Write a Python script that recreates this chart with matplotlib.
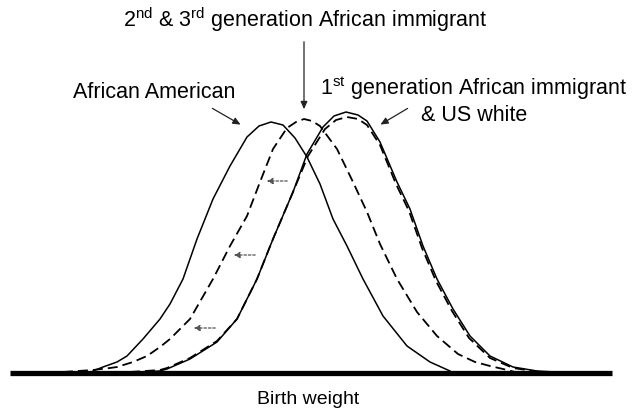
import matplotlib
matplotlib.use("Agg")
import matplotlib.pyplot as plt

plt.rcParams["font.family"] = ["Liberation Sans", "DejaVu Sans"]
plt.rcParams["mathtext.fontset"] = "custom"
plt.rcParams["mathtext.rm"] = "Liberation Sans"

# curves: x = birth weight (px), y = height above baseline (px)
aa_x = [93, 103, 117, 127, 143, 160, 170, 183, 197, 213, 230, 247, 259, 271,
        283, 295, 307, 320, 333, 347, 363, 383, 407, 430, 450]
aa_y = [1, 5, 10, 16, 33, 53, 68, 93, 133, 173, 206, 235, 246, 250,
        247, 234, 215, 188, 153, 126, 93, 56, 26, 10, 1]

gen23_x = [63, 93, 110, 117, 133, 147, 160, 170, 190, 213, 230, 247, 260, 273,
           287, 296, 304, 312, 320, 337, 353, 367, 380, 397, 417, 437, 458,
           475, 490, 503, 515]
gen23_y = [0, 2, 4, 5, 10, 16, 25, 33, 53, 93, 126, 156, 190, 223,
           244, 250, 253, 251, 246, 223, 190, 160, 128, 93, 60, 36, 18,
           10, 6, 3, 0]

gen1_x = [140, 160, 167, 190, 217, 237, 257, 273, 293, 307, 323, 334, 346,
          358, 367, 380, 397, 410, 423, 437, 453, 470, 490, 513, 537, 555]
gen1_y = [0, 1, 3, 13, 30, 53, 93, 133, 180, 218, 245, 256, 260,
          257, 251, 230, 190, 163, 126, 93, 63, 36, 16, 5, 1, 0]

white_x = [100, 130, 160, 167, 190, 217, 237, 257, 273, 293, 308, 325, 336,
           347, 358, 367, 380, 396, 409, 422, 436, 452, 469, 490, 513, 540]
white_y = [0, 0, 2, 4, 14, 31, 53, 93, 133, 180, 216, 243, 252,
           255, 253, 247, 227, 188, 161, 124, 91, 61, 34, 14, 4, 0]

label_top = r"2$^{\mathrm{nd}}$ & 3$^{\mathrm{rd}}$ generation African immigrant"
label_aa = "African American"
label_gen1 = "1$^{\\mathrm{st}}$ generation African immigrant\n& US white"
label_x = "Birth weight"

fig = plt.figure(figsize=(6.32, 4.14), dpi=100)
ax = fig.add_axes([0, 0, 1, 1])
ax.set_xlim(0, 632)
ax.set_ylim(-41, 373)
ax.axis("off")

dash = (5.5, 2.8)
ax.plot(aa_x, aa_y, color="black", lw=1.1)
ax.plot(gen1_x, gen1_y, color="black", lw=1.1)
ax.plot(gen23_x, gen23_y, color="black", lw=1.3, dashes=dash)
ax.plot(white_x, white_y, color="black", lw=1.3, dashes=dash)

# baseline
ax.plot([10, 612], [-1, -1], color="black", lw=3.8, solid_capstyle="butt")

# shift arrows (dotted, pointing left)
for y0, x0, x1 in [(191, 290, 264), (117, 258, 231), (44, 218, 191)]:
    ax.annotate("", xy=(x1, y0), xytext=(x0, y0),
                arrowprops=dict(arrowstyle="-|>,head_length=0.35,head_width=0.18",
                                color="#555555", lw=0.9, ls=(0, (2, 1.5))))

arrow_kw = dict(arrowstyle="-|>,head_length=0.45,head_width=0.2",
                color="#222222", lw=0.9)
ax.annotate("", xy=(304, 260), xytext=(304, 333), arrowprops=arrow_kw)
ax.annotate("", xy=(243, 246), xytext=(210, 265), arrowprops=arrow_kw)
ax.annotate("", xy=(378, 246), xytext=(410, 265), arrowprops=arrow_kw)

fs = 15.5
ax.text(305, 353, label_top, ha="center", va="center", fontsize=fs)
ax.text(154, 280, label_aa, ha="center", va="center", fontsize=fs)
ax.text(474, 273, label_gen1, ha="center", va="center", fontsize=fs,
        linespacing=1.15)
ax.text(308, -27, label_x, ha="center", va="center", fontsize=14)

fig.savefig("out.png", dpi=100)
